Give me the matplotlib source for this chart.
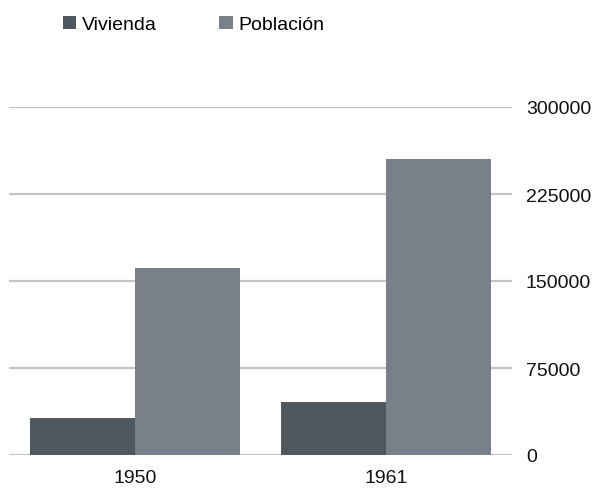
import matplotlib
matplotlib.use("Agg")
import matplotlib.pyplot as plt
import numpy as np

plt.rcParams['font.family'] = ['Liberation Sans', 'DejaVu Sans']

categories = ["1950", "1961"]
series_names = ["Vivienda", "Población"]
vivienda = [32000, 46000]
poblacion = [161000, 255000]
yticks = [0, 75000, 150000, 225000, 300000]
colors = ["#50585f", "#78808a"]

fig = plt.figure(figsize=(5.93, 4.89), dpi=100)
ax = fig.add_axes([9/593, 33/489, 503/593, 348/489])

x = np.arange(len(categories))
w = 0.4175
b1 = ax.bar(x - w/2, vivienda, width=w, color=colors[0], label=series_names[0], zorder=3)
b2 = ax.bar(x + w/2, poblacion, width=w, color=colors[1], label=series_names[1], zorder=3)

ax.set_xlim(-0.5, len(categories) - 0.5)
ax.set_ylim(0, 300000)
ax.set_yticks(yticks)
ax.set_yticklabels([str(v) for v in yticks])
ax.yaxis.tick_right()
ax.set_xticks(x)
ax.set_xticklabels(categories)
ax.tick_params(axis='y', length=0, pad=10, labelsize=14, colors='#111111')
ax.tick_params(axis='x', length=0, pad=10, labelsize=14, colors='#111111')
ax.grid(axis='y', color='#c4c4c4', linewidth=1.6, zorder=0)
for s in ax.spines.values():
    s.set_visible(False)

fig.legend(handles=[b1, b2], labels=series_names, loc='upper left',
           bbox_to_anchor=(55/593, 1 - 9/489), ncol=2, frameon=False,
           handlelength=0.7, handleheight=0.7, handletextpad=0.3,
           columnspacing=3.2, fontsize=14, borderaxespad=0)

fig.savefig("out.png", dpi=100)
